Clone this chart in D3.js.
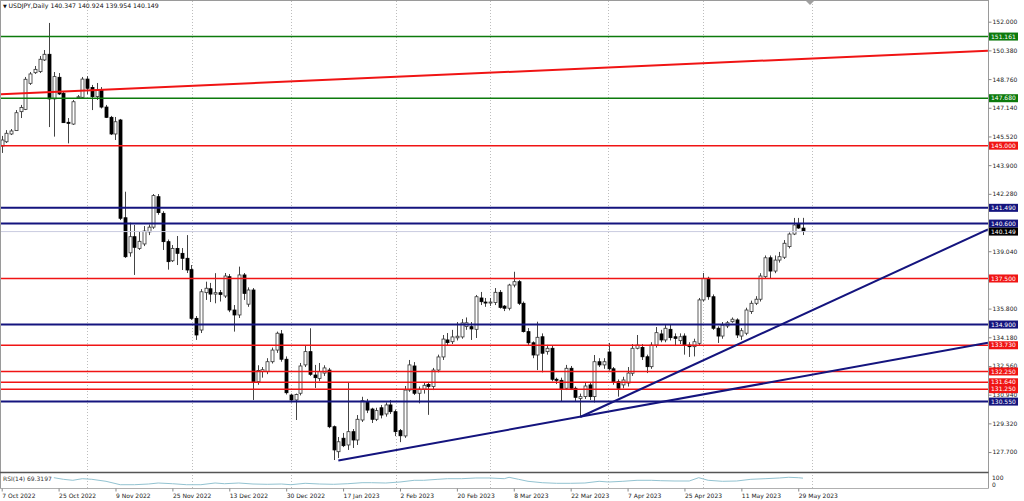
<!DOCTYPE html>
<html><head><meta charset="utf-8">
<script src="https://cdn.jsdelivr.net/npm/d3@7"></script>
<style>html,body{margin:0;padding:0;background:#fff;overflow:hidden}svg{display:block}text{font-family:"DejaVu Sans",sans-serif}</style>
</head><body><svg id="c" width="1024" height="501"></svg>
<script>
const symbol = "USDJPY,Daily";
const opens = [144.98,145.22,145.66,145.85,146.92,147.05,148.52,149.12,149.18,149.84,
150.16,147.64,148.86,147.96,146.32,146.22,147.70,147.73,148.76,148.29,
147.77,148.14,147.18,146.60,145.66,146.45,140.93,138.95,139.86,139.20,
139.45,140.13,140.40,142.12,141.18,139.58,138.50,139.20,138.92,138.64,
138.00,135.25,134.59,136.70,136.92,136.62,136.70,136.51,137.60,135.72,
135.44,137.70,136.05,136.85,131.67,132.25,132.24,132.80,133.46,134.37,
132.94,130.92,130.64,131.02,132.62,133.37,132.05,131.86,132.16,132.33,
129.13,127.72,128.48,128.10,128.85,128.38,129.51,130.54,130.13,129.55,
130.20,129.85,130.36,129.98,128.91,128.61,131.20,132.56,131.02,131.25,
131.52,131.40,132.33,133.07,134.03,133.93,134.15,134.20,134.79,134.78,
134.63,136.40,136.17,136.14,136.14,136.72,135.94,135.82,137.13,137.32,
136.10,134.50,133.87,133.18,134.21,133.37,133.56,131.81,131.75,131.30,
132.43,131.30,130.73,130.83,131.49,130.83,132.80,132.62,133.35,132.40,
131.67,131.49,131.60,132.15,133.56,133.61,133.08,132.52,133.74,134.37,
134.03,134.63,134.21,133.99,134.25,133.74,133.65,133.84,136.29,137.51,
136.47,134.69,134.25,134.82,135.06,135.16,134.25,134.41,135.63,136.10,
136.33,137.60,138.67,137.92,138.54,138.70,139.30,140.01,140.58,140.347];
const highs = [145.55,145.88,145.94,147.01,147.30,148.88,149.16,149.50,150.06,150.40,
151.93,149.16,149.10,148.03,146.56,147.58,147.86,148.88,148.93,148.43,
148.54,148.31,147.30,146.68,146.62,146.51,142.40,140.65,140.52,140.13,
140.46,140.55,142.27,142.27,141.30,139.70,139.39,139.90,139.22,139.95,
138.26,135.38,136.90,137.32,137.25,137.80,136.85,137.81,137.75,136.00,
138.17,137.81,137.00,136.96,132.60,132.50,133.00,133.60,134.50,134.59,
133.10,131.00,131.00,132.73,133.69,134.69,132.62,132.73,132.60,132.45,
129.20,128.55,128.78,131.60,129.00,129.79,130.82,130.70,130.20,130.20,
130.36,130.50,130.64,130.10,129.00,131.43,132.90,132.78,131.40,131.60,
131.60,132.45,133.20,134.31,134.42,134.60,135.04,135.21,135.30,135.04,
136.57,136.74,136.40,136.40,136.96,136.85,136.00,137.20,137.88,137.41,
136.20,134.70,133.95,135.06,134.40,133.75,133.70,131.90,131.90,132.62,
132.56,131.40,131.00,131.60,131.60,133.18,133.00,133.00,133.86,132.50,
131.80,131.95,132.50,133.80,134.31,133.80,133.20,133.90,134.76,134.60,
134.87,134.90,134.40,134.40,134.40,133.90,134.10,136.40,137.81,137.60,
136.60,134.80,135.04,135.10,135.30,135.25,134.70,135.85,136.25,136.50,
137.80,138.80,138.80,138.80,139.00,139.67,140.10,140.92,140.92,140.924];
const lows = [144.59,145.15,145.60,145.83,146.56,147.01,148.43,149.05,149.10,149.78,
146.05,145.51,147.86,146.28,145.13,146.17,147.64,147.69,147.90,147.01,
147.58,147.10,146.56,145.60,145.32,140.80,138.66,138.73,137.70,139.11,
139.33,139.95,140.30,141.10,139.11,138.00,138.43,138.26,137.98,137.81,
135.16,134.03,134.42,136.29,136.17,136.10,136.20,136.40,135.60,134.50,
135.27,136.29,135.90,130.64,131.50,131.90,132.10,132.70,133.30,132.80,
130.95,130.50,129.51,130.90,132.50,132.00,131.32,131.70,132.00,129.05,
127.25,127.36,127.98,127.82,127.93,128.10,129.40,129.90,129.34,129.45,
129.60,129.70,129.85,128.60,128.26,128.50,131.10,130.92,130.45,131.00,
129.80,131.20,132.20,132.90,133.69,133.80,134.00,134.10,134.60,134.03,
134.14,136.00,135.90,135.95,136.00,135.80,135.66,135.70,137.00,136.00,
134.45,133.70,133.00,132.33,132.20,133.20,131.70,131.54,130.54,131.20,
131.20,130.58,129.68,130.70,130.64,130.50,132.50,132.40,132.30,131.50,
130.83,131.30,131.40,132.00,133.50,132.90,132.16,132.40,133.60,133.90,
133.90,134.00,133.74,133.80,133.20,133.07,133.10,133.70,136.20,136.30,
134.60,133.86,134.10,134.70,135.00,134.14,134.03,134.30,135.50,136.00,
136.20,137.50,137.50,137.80,138.40,138.60,139.20,139.95,140.30,139.954];
const closes = [145.32,145.70,145.83,146.86,147.16,148.75,149.05,149.31,149.88,150.16,
147.64,148.90,147.92,146.30,146.26,147.48,147.76,148.76,148.24,147.77,
148.14,147.18,146.60,145.66,146.35,140.90,138.73,139.86,139.26,139.60,
140.18,140.40,142.18,141.22,139.58,138.45,139.20,138.92,138.64,137.98,
135.25,134.31,136.75,136.95,136.62,136.70,136.60,137.64,135.72,135.44,
137.70,136.66,136.85,131.67,132.30,132.35,132.80,133.46,134.41,132.94,
131.05,130.64,130.95,132.56,133.37,132.09,131.90,132.24,132.45,129.13,
127.82,128.28,128.06,128.85,128.38,129.55,130.60,130.07,129.55,130.04,
129.79,130.36,129.98,128.85,128.62,131.20,132.62,131.02,131.25,131.47,
131.40,132.33,133.07,134.08,133.88,134.20,134.24,134.99,135.00,134.65,
136.47,136.19,136.14,136.17,136.72,135.87,135.82,137.13,137.32,136.10,
134.50,133.87,133.18,134.18,133.28,133.56,131.81,131.75,131.27,132.43,
131.30,130.79,130.83,131.43,130.83,132.80,132.62,132.80,132.40,131.67,
131.30,131.77,132.16,133.56,133.74,133.08,132.52,133.74,134.44,134.03,
134.69,134.16,134.12,134.21,133.74,133.65,133.93,136.29,137.51,136.47,
134.69,134.25,134.87,135.00,135.20,134.31,134.55,135.72,136.10,136.33,
137.64,138.67,137.92,138.54,138.73,139.49,140.01,140.52,140.35,140.149];

const priceTicks = [152.000,150.380,148.760,147.140,145.520,143.900,142.280,140.660,139.040,137.420,135.800,134.180,132.560,130.940,129.320,127.700];
const dateLabels = ["7 Oct 2022","25 Oct 2022","9 Nov 2022","25 Nov 2022","13 Dec 2022","30 Dec 2022","17 Jan 2023","2 Feb 2023","20 Feb 2023","8 Mar 2023","22 Mar 2023","7 Apr 2023","25 Apr 2023","11 May 2023","29 May 2023"];
const dateBars = [0,12,24,36,48,60,72,84,96,108,120,132,144,156,168];
const gridBars = [18,40.2,61,83.2,103,127.9,148,170.9];

const greenLevels = [151.161,147.680];
const redLevels = [145.000,137.500,133.730,132.250,131.640,131.250];
const navyLevels = [141.490,140.600,134.900,130.550];
const lastPrice = 140.149;

const redTrendBars = [-0.36,208], redTrendPrices = [147.90,150.36];
const navyTrend1Bars = [71,208], navyTrend1Prices = [127.22,133.87];
const navyTrend2Bars = [122,208], navyTrend2Prices = [129.68,140.27];

const rsiBars = [11,13,15,17,19,22,25,28,31,33,36,39,42,45,47,50,53,56,59,61,64,67,70,73,76,78,81,84,87,89,92,94,97,100,103,106,107,109,111,114,117,120,123,126,128,131,134,137,139,142,145,147,149,152,155,158,161,164,166,168,169];
const rsiValues = [72.6,60.7,53.3,65.2,60.7,45.9,20.7,20.7,25.9,33.3,28.1,20.7,20.7,33.3,28.1,33.3,25.9,23.7,25.9,20.7,31.1,25.9,23.7,28.1,35.6,35.6,33.3,40.7,53.3,53.3,60.7,65.2,65.2,70.4,70.4,65.2,75.6,60.7,45.9,35.6,31.1,31.1,33.3,45.9,40.7,45.9,53.3,53.3,50.4,48.1,48.1,72.6,53.3,45.9,48.1,60.7,65.2,70.4,75.6,72.6,69.3197];
const rsiLabel = "RSI(14) 69.3197";

const COL = {green:"#0c7a0c", red:"#f01414", navy:"#14147e"};
const PR = 988, MT = 1, MB = 472, RT = 473, RB = 488;
const FS = 6;

const svg = d3.select("#c");
const x = d3.scaleLinear().domain([0,169]).range([1.7,803]);
const y = d3.scaleLinear().domain([127.7,152]).range([452.05,21.7]);
const ry = d3.scaleLinear().domain([0,100]).range([487.5,474]);

svg.append("rect").attr("width",1024).attr("height",501).attr("fill","#fff");
const defs = svg.append("defs");
defs.append("clipPath").attr("id","mclip").append("rect").attr("x",1).attr("y",MT).attr("width",PR-1).attr("height",MB-MT);

// vertical grid
svg.append("g").selectAll("line").data(gridBars).join("line")
  .attr("x1",d=>Math.round(x(d))+0.5).attr("x2",d=>Math.round(x(d))+0.5)
  .attr("y1",MT).attr("y2",RB)
  .attr("stroke","#bdbdbd").attr("stroke-width",1).attr("stroke-dasharray","1,2");

// candles
const main = svg.append("g").attr("clip-path","url(#mclip)");
const idx = d3.range(closes.length);
const cg = main.append("g");
cg.selectAll("line.w").data(idx).join("line").attr("class","w")
  .attr("x1",i=>Math.round(x(i))+0.5).attr("x2",i=>Math.round(x(i))+0.5)
  .attr("y1",i=>y(highs[i])).attr("y2",i=>y(lows[i]))
  .attr("stroke","#444").attr("stroke-width",1);
cg.selectAll("rect").data(idx).join("rect")
  .attr("x",i=>Math.round(x(i))-1)
  .attr("width",3)
  .attr("y",i=>y(Math.max(opens[i],closes[i])))
  .attr("height",i=>Math.max(1,Math.abs(y(opens[i])-y(closes[i]))))
  .attr("fill",i=>closes[i]>=opens[i]?"#fff":"#000")
  .attr("stroke",i=>closes[i]>=opens[i]?"#333":"#000")
  .attr("stroke-width",0.8);

// bid line
main.append("line").attr("x1",1).attr("x2",PR).attr("y1",y(lastPrice)).attr("y2",y(lastPrice))
  .attr("stroke","#c9cbe0").attr("stroke-width",1);

// horizontal levels
function levels(arr,color,w){
  main.append("g").selectAll("line").data(arr).join("line")
    .attr("x1",1).attr("x2",PR).attr("y1",d=>y(d)).attr("y2",d=>y(d))
    .attr("stroke",color).attr("stroke-width",w);
}
levels(greenLevels,COL.green,1.6);
levels(redLevels,COL.red,1.5);
levels(navyLevels,COL.navy,2);

// trend lines
function trend(bars,prices,color){
  main.append("line").attr("x1",x(bars[0])).attr("y1",y(prices[0]))
    .attr("x2",x(bars[1])).attr("y2",y(prices[1]))
    .attr("stroke",color).attr("stroke-width",2);
}
trend(redTrendBars,redTrendPrices,COL.red);
trend(navyTrend1Bars,navyTrend1Prices,COL.navy);
trend(navyTrend2Bars,navyTrend2Prices,COL.navy);

// frame
const fr = svg.append("g").attr("fill","none");
fr.append("line").attr("x1",0).attr("x2",PR+0.5).attr("y1",0.5).attr("y2",0.5).attr("stroke","#9a9a9a");
fr.append("line").attr("x1",0.5).attr("x2",0.5).attr("y1",0).attr("y2",RB).attr("stroke","#9a9a9a");
fr.append("line").attr("x1",PR+0.5).attr("x2",PR+0.5).attr("y1",0).attr("y2",RB+0.5).attr("stroke","#9a9a9a");
fr.append("line").attr("x1",0).attr("x2",PR+0.5).attr("y1",MB+0.5).attr("y2",MB+0.5).attr("stroke","#555").attr("stroke-width",1.6);
fr.append("line").attr("x1",0).attr("x2",PR+0.5).attr("y1",RB+0.5).attr("stroke","#b0b0b0").attr("y2",RB+0.5);

// shift marker
svg.append("path").attr("d","M806,1 L814,1 L810,5 Z").attr("fill","#a0a0a0");

// right price axis
const ax = d3.axisRight(y).tickValues(priceTicks).tickFormat(d3.format(".3f")).tickSize(3).tickPadding(1).tickSizeOuter(0);
const axg = svg.append("g").attr("transform",`translate(${PR+0.5},0)`).call(ax);
axg.select(".domain").remove();
axg.selectAll("line").attr("stroke","#888");
axg.selectAll("text").attr("font-size",FS).attr("fill","#222").attr("font-family","DejaVu Sans");

// level labels
function boxes(arr,color){
  const g = svg.append("g").selectAll("g").data(arr).join("g")
    .attr("transform",d=>`translate(${PR+1},${y(d)})`);
  g.append("rect").attr("x",0).attr("y",-4).attr("width",29).attr("height",8).attr("fill",color);
  g.append("text").attr("x",2).attr("y",2.2).attr("font-size",FS).attr("fill","#fff").text(d=>d3.format(".3f")(d));
}
boxes(greenLevels,COL.green);
boxes(redLevels,COL.red);
boxes(navyLevels,COL.navy);
boxes([lastPrice],"#000");

// bottom date axis
const bx = d3.axisBottom(x).tickValues(dateBars).tickFormat((d,i)=>dateLabels[i]).tickSize(3).tickPadding(2).tickSizeOuter(0);
const bxg = svg.append("g").attr("transform",`translate(0,${RB+0.5})`).call(bx);
bxg.select(".domain").remove();
bxg.selectAll("line").attr("stroke","#888");
bxg.selectAll("text").attr("font-size",FS).attr("fill","#222").attr("text-anchor","start").attr("font-family","DejaVu Sans");

// RSI
const rsiLine = d3.line().x((d,i)=>x(rsiBars[i])).y(d=>ry(d)).curve(d3.curveLinear);
svg.append("path").datum(rsiValues).attr("d",rsiLine).attr("fill","none").attr("stroke","#93c3d1").attr("stroke-width",1);
svg.append("text").attr("x",3).attr("y",480.5).attr("font-size",FS).attr("fill","#333").text(rsiLabel);
svg.append("text").attr("x",PR+4).attr("y",480).attr("font-size",FS).attr("fill","#222").text("100");
svg.append("text").attr("x",PR+4).attr("y",486.5).attr("font-size",FS).attr("fill","#222").text("0");

// header
const n = closes.length-1;
const hdr = svg.append("text").attr("x",3).attr("y",8).attr("font-size",6.2).attr("fill","#111");
hdr.append("tspan").attr("font-size",5).text("▼ ");
hdr.append("tspan").text(`${symbol}  ${d3.format(".3f")(opens[n])} ${d3.format(".3f")(highs[n])} ${d3.format(".3f")(lows[n])} ${d3.format(".3f")(closes[n])}`);
</script></body></html>
